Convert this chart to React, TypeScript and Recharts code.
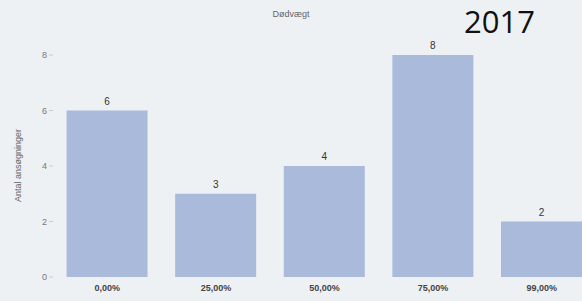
import React from 'react';
import { BarChart, Bar, XAxis, YAxis, LabelList } from 'recharts';

const categories = ['0,00%', '25,00%', '50,00%', '75,00%', '99,00%'];
const counts = [6, 3, 4, 8, 2];
const yTicks = [0, 2, 4, 6, 8];

const data = categories.map((name, i) => ({ name, count: counts[i] }));

export default function App() {
  return (
    <div
      style={{
        position: 'fixed',
        left: 0,
        top: 0,
        width: 582,
        height: 301,
        overflow: 'hidden',
        background: '#eef1f4',
        fontFamily: '"Liberation Sans", Arial, sans-serif',
      }}
    >
      <div style={{ position: 'absolute', left: 0, width: 582, top: 9, textAlign: 'center', fontSize: 9, color: '#666' }}>
        Dødvægt
      </div>
      <div style={{ position: 'absolute', left: 464, top: 0, fontSize: 31, lineHeight: '42px', height: 42, color: '#111', fontFamily: '"Open Sans", sans-serif', marginTop: -6 + 6 }}>
        2017
      </div>
      <BarChart
        width={600}
        height={301}
        data={data}
        margin={{ top: 55, right: 4, left: 0, bottom: 4 }}
        barCategoryGap="12.5%"
      >
        <XAxis
          dataKey="name"
          height={20}
          axisLine={false}
          tickLine={false}
          tick={{ fill: '#444', fontSize: 9, fontWeight: 'bold' }}
        />
        <YAxis
          width={53}
          domain={[0, 8]}
          ticks={yTicks}
          axisLine={false}
          tickLine={{ stroke: '#ccc' }}
          tickSize={4}
          tick={{ fill: '#777', fontSize: 9 }}
          label={{ value: 'Antal ansøgninger', angle: -90, position: 'insideLeft', offset: 18, fill: '#666', fontSize: 9, dy: 36 }}
        />
        <Bar dataKey="count" fill="#a9badb" isAnimationActive={false}>
          <LabelList dataKey="count" position="top" offset={6} fill="#333" fontSize={10} />
        </Bar>
      </BarChart>
    </div>
  );
}
